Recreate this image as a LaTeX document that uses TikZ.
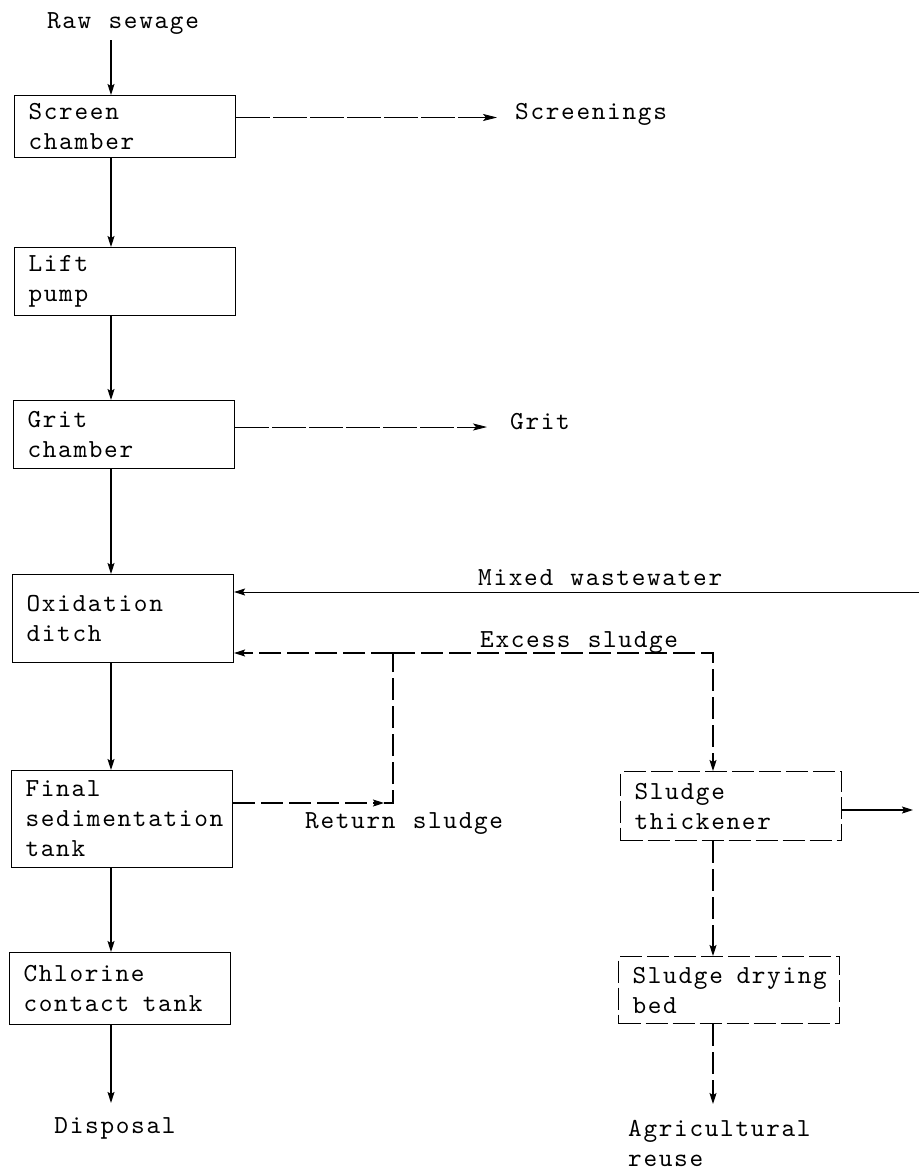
\documentclass[tikz,border=0pt]{standalone}
\usepackage{fontspec}
\setmainfont{lmmono10-regular.otf}[LetterSpace=6.5, WordSpace={1.124,0,0}]
\usetikzlibrary{arrows.meta}
\newcommand\gap{\hspace*{13.6pt}}
\begin{document}
\begin{tikzpicture}[x=1pt,y=-1pt,
  every node/.style={font=\fontsize{26}{30}\selectfont},
  unit/.style={draw, line width=1.1pt, anchor=north west, align=left,
    inner xsep=14pt, inner ysep=0pt, text width=193pt, minimum height=#1},
  sludgeunit/.style={unit=#1, dash pattern=on 22pt off 5pt},
  lbl/.style={inner sep=0pt},
  tip/.style={-{Stealth[length=11pt,width=7pt,inset=2pt]}},
  flow/.style={line width=1.1pt, tip},
  dline/.style={line width=1.1pt, dash pattern=on 22pt off 6pt},
  sflow/.style={dline, tip},
  side/.style={line width=0.8pt, dash pattern=on 34pt off 3pt,
    -{Stealth[length=14pt,width=7pt,inset=3pt]}},
]
\useasboundingbox (0,0) rectangle (919,1173);

% main treatment line
\coordinate (col) at (111,0);
\node[lbl, anchor=base] (raw) at (123,28) {Raw sewage};
\node[unit=62pt] (screen) at (14,95) {Screen\\chamber};
\node[unit=68pt] (lift) at (14,247) {Lift\\pump};
\node[unit=68pt] (grit) at (13,400) {Grit\\chamber};
\node[unit=88pt] (ox) at (12,574) {Oxidation\\ditch};
\node[unit=97pt] (final) at (11,770) {Final\\sedimentation\\tank};
\node[unit=72pt] (chlor) at (9,952) {Chlorine\\\mbox{contact\gap tank}};
\node[lbl, anchor=base] (disp) at (115,1133) {Disposal};

\draw[flow, shorten <=6pt] (col |- raw.south) -- (col |- screen.north);
\draw[flow] (screen.south -| col) -- (lift.north -| col);
\draw[flow] (lift.south -| col) -- (grit.north -| col);
\draw[flow] (grit.south -| col) -- (ox.north -| col);
\draw[flow] (ox.south -| col) -- (final.north -| col);
\draw[flow] (final.south -| col) -- (chlor.north -| col);
\draw[flow, shorten >=14pt] (chlor.south -| col) -- (col |- disp.north);

% removed solids
\node[lbl, anchor=mid west] (scr) at (515,117.5) {Screenings};
\node[lbl, anchor=mid west] (gritout) at (510,427) {Grit};
\draw[side, shorten >=18pt] (screen.east |- scr.mid west) -- (scr.mid west);
\draw[side, shorten >=23pt] (grit.east |- gritout.mid west) -- (gritout.mid west);

% mixed wastewater return
\coordinate (mw) at (919,592);
\node[lbl, anchor=base west] (mwl) at (478,585) {Mixed wastewater};
\draw[flow, line width=0.9pt] (mw) -- (ox.east |- mw);

% sludge line
\node[sludgeunit=69pt] (thick) at (620,771) {Sludge\\thickener};
\node[sludgeunit=67pt] (dry) at (618,956) {\mbox{Sludge\gap drying}\\bed};
\node[lbl, anchor=north west, align=left] (agri) at (628,1120) {Agricultural\\reuse};
\node[lbl, anchor=base west] (exl) at (480,647) {Excess sludge};
\node[lbl, anchor=base west] (rsl) at (305,828) {Return sludge};

\coordinate (rs) at (393,803);
\coordinate (jn) at (393,653);
\coordinate (es) at (713,653);
\coordinate (tho) at (913,810);

\draw[sflow, shorten >=9pt] (final.east |- rs) -- (rs);
\draw[dline] ([xshift=-9pt]rs) -- (rs) -- (jn);
\draw[sflow] (jn) -- (ox.east |- jn);
\draw[sflow] (jn) -- (es) -- (thick.north -| es);
\draw[sflow] (thick.south -| es) -- (dry.north -| es);
\draw[sflow, shorten >=16pt] (dry.south -| es) -- (es |- agri.north);
\draw[flow] (thick.east |- tho) -- (tho);
\end{tikzpicture}
\end{document}
